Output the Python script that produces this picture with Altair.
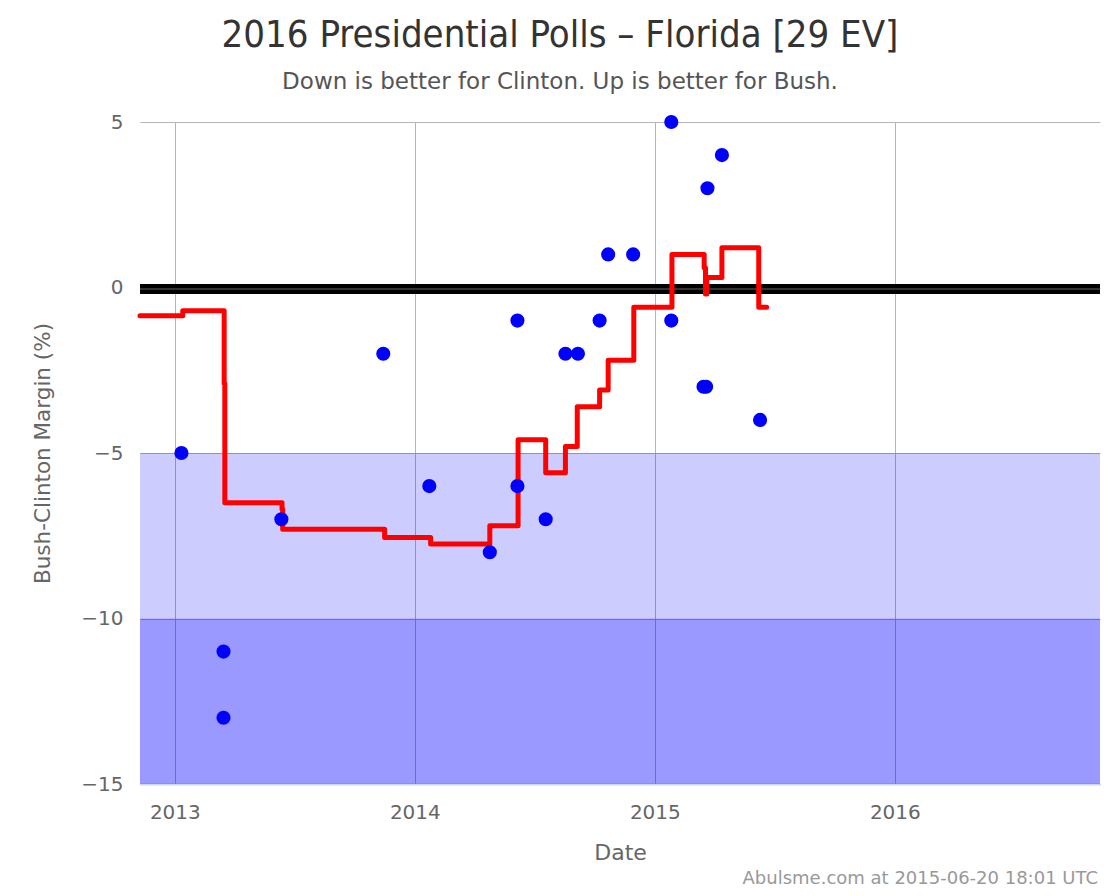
import altair as alt
import pandas as pd

# ---- data ----
poll_dates = [
    "2013-01-11", "2013-03-16", "2013-03-16", "2013-06-12", "2013-11-14",
    "2014-01-23", "2014-04-25", "2014-06-06", "2014-06-06", "2014-07-19",
    "2014-08-18", "2014-09-06", "2014-10-09", "2014-10-22", "2014-11-29",
    "2015-01-26", "2015-01-26", "2015-03-16", "2015-03-20", "2015-03-22",
    "2015-04-13", "2015-06-10",
]
poll_margins = [
    -5, -11, -13, -7, -2,
    -6, -8, -6, -1, -7,
    -2, -2, -1, 1, 1,
    5, -1, -3, -3, 3,
    4, -4,
]

avg_dates = [
    "2012-11-09", "2013-01-13", "2013-03-17", "2013-03-18", "2013-06-13",
    "2013-06-14", "2013-11-16", "2014-01-25", "2014-04-25", "2014-06-07",
    "2014-07-19", "2014-08-18", "2014-09-05", "2014-10-09", "2014-10-22",
    "2014-11-30", "2015-01-27", "2015-03-17", "2015-03-19", "2015-03-21",
    "2015-04-13", "2015-06-08", "2015-06-20",
]
avg_margins = [
    -0.85, -0.7, -2.9, -6.5, -6.7,
    -7.3, -7.55, -7.75, -7.2, -4.6,
    -5.6, -4.8, -3.6, -3.1, -2.2,
    -0.6, 1.0, 0.6, -0.2, 0.3,
    1.2, -0.6, -0.6,
]

band_tops = [-5, -10]
band_bottoms = [-10, -15]
band_opacity = [0.2, 0.4]

y_ticks = [5, 0, -5, -10, -15]
year_ticks = [2013, 2014, 2015, 2016]
x_start = (2012, 11, 9)
x_end = (2016, 11, 8)

title_text = "2016 Presidential Polls – Florida [29 EV]"
subtitle_text = "Down is better for Clinton. Up is better for Bush."
footer_text = "Abulsme.com at 2015-06-20 18:01 UTC"

# ---- tables ----
polls = pd.DataFrame({"date": poll_dates, "margin": poll_margins})
avg = pd.DataFrame({"date": avg_dates, "margin": avg_margins})
bands = pd.DataFrame({"top": band_tops, "bottom": band_bottoms, "op": band_opacity})
zero = pd.DataFrame({"v": [0]})

FONT = "DejaVu Sans"
TFONT = "DejaVu Sans Condensed, DejaVu Sans"

x_scale = alt.Scale(domain=[alt.DateTime(year=x_start[0], month=x_start[1], date=x_start[2]),
                            alt.DateTime(year=x_end[0], month=x_end[1], date=x_end[2])])
y_scale = alt.Scale(domain=[-15, 5], nice=False)

x_axis = alt.Axis(
    title="Date",
    values=[alt.DateTime(year=y, month=1, date=1) for y in year_ticks],
    format="%Y",
    grid=True, gridColor="#b5b5b5", gridWidth=1,
    ticks=False, domainColor="#ccd6eb", domainWidth=2,
    labelFontSize=20, labelColor="#666666", labelFont=FONT, labelPadding=18,
    titleFontSize=22, titleColor="#666666", titleFont=FONT, titleFontWeight="normal",
    titlePadding=20,
)
y_axis = alt.Axis(
    title="Bush-Clinton Margin (%)",
    values=y_ticks,
    grid=True, gridColor="#b5b5b5", gridWidth=1,
    ticks=False, domain=False,
    labelFontSize=20, labelColor="#666666", labelFont=FONT, labelPadding=17,
    titleFontSize=21.5, titleColor="#666666", titleFont=FONT, titleFontWeight="normal",
    titlePadding=26,
)

band_layer = alt.Chart(bands).mark_rect(color="#0000ff").encode(
    x=alt.value(0), x2=alt.value("width"),
    y=alt.Y("top:Q", scale=y_scale, axis=y_axis),
    y2="bottom:Q",
    opacity=alt.Opacity("op:Q", scale=None, legend=None),
)

zero_black = alt.Chart(zero).mark_rule(color="black", strokeWidth=10, yOffset=1.5).encode(
    y=alt.Y("v:Q", scale=y_scale)
)
zero_thin = alt.Chart(zero).mark_rule(color="#444444", strokeWidth=1.5, yOffset=1.5).encode(
    y=alt.Y("v:Q", scale=y_scale)
)

line_layer = alt.Chart(avg).mark_line(
    color="#ff0000", strokeWidth=5, interpolate="step-after",
    strokeCap="round", strokeJoin="round",
).encode(
    x=alt.X("date:T", scale=x_scale, axis=x_axis),
    y=alt.Y("margin:Q", scale=y_scale),
)

point_layer = alt.Chart(polls).mark_circle(color="#0000ff", opacity=1, size=200).encode(
    x=alt.X("date:T", scale=x_scale),
    y=alt.Y("margin:Q", scale=y_scale),
)

footer = alt.Chart(zero).mark_text(
    text=footer_text, align="right", baseline="alphabetic",
    fontSize=18, color="#999999", font=FONT,
).encode(x=alt.value(958), y=alt.value(762))

chart = alt.layer(band_layer, zero_black, zero_thin, line_layer, point_layer, footer).properties(
    width=960, height=662,
    padding={"left": 132, "top": 114, "right": 12, "bottom": 110},
    autosize=alt.AutoSizeParams(type="none"),
    title=alt.TitleParams(
        text=title_text, subtitle=subtitle_text,
        font=TFONT, fontSize=38, fontWeight="normal", color="#333333",
        subtitleFont=FONT, subtitleFontSize=23, subtitleColor="#555555",
        anchor="middle", frame="group", dx=-60, offset=18, subtitlePadding=16,
    ),
).configure(background="white", view=alt.ViewConfig(stroke=None))

chart.save("out.html", embed_options={"renderer": "svg", "actions": False})
